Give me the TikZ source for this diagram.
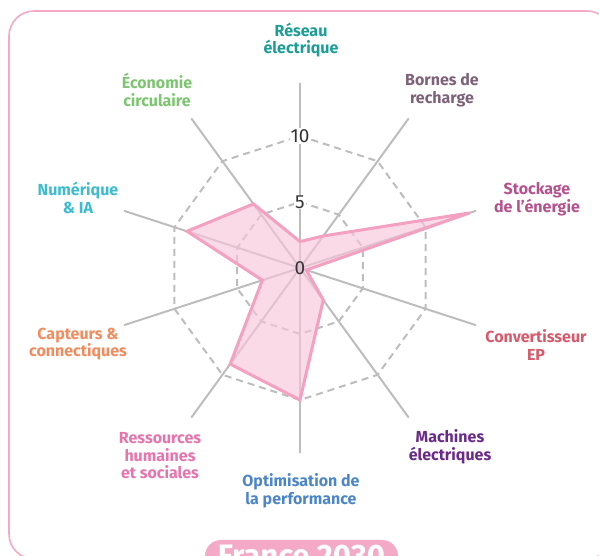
\documentclass[tikz,border=0pt]{standalone}
\usepackage{fontspec}
\setmainfont{Fira Sans}
\definecolor{framepink}{HTML}{F6A9C6}
\definecolor{badgepink}{HTML}{F4A9C6}
\definecolor{polyline}{HTML}{F4A0C0}
\definecolor{polyfill}{HTML}{F7C6DA}
\definecolor{gridgray}{HTML}{BDBDBD}
\definecolor{ticktext}{HTML}{333333}
\definecolor{cteal}{HTML}{1A9E96}
\definecolor{cmauve}{HTML}{7D6279}
\definecolor{cstock}{HTML}{B5528E}
\definecolor{cconv}{HTML}{D65A6B}
\definecolor{cmach}{HTML}{6A2A8A}
\definecolor{coptim}{HTML}{4C86C6}
\definecolor{crh}{HTML}{E774AC}
\definecolor{ccapt}{HTML}{F28C5F}
\definecolor{cnum}{HTML}{3DBCD1}
\definecolor{ceco}{HTML}{7DC571}
\tikzset{
  axisline/.style={draw=gridgray, line width=2pt},
  ringline/.style={draw=gridgray, line width=2pt, dash pattern=on 7pt off 5pt},
  datapoly/.style={draw=polyline, line width=3pt, fill=polyfill, fill opacity=0.65, line join=miter},
  catlabel/.style={align=center, font=\fontsize{16}{17.5}\selectfont\bfseries, inner sep=0pt},
  ticklabel/.style={text=ticktext, font=\fontsize{19}{19}\selectfont, inner sep=1pt}
}
\begin{document}
\begin{tikzpicture}[x=1pt,y=1pt]
\useasboundingbox (0,0) rectangle (599,556);
\begin{scope}
  \clip (0,0) rectangle (599,556);
  \draw[framepink, line width=1.6pt, rounded corners=25pt] (9,-3) rectangle (612,545);
  \fill[badgepink, rounded corners=16pt] (205,-30) rectangle (398,16);
  \node[anchor=base, text=white, font=\fontsize{31}{31}\selectfont\bfseries] (badge) at (301.5,-11) {France 2030};
\end{scope}
\coordinate (c) at (300,288);
\begin{scope}[shift={(300,288)}]
  % axes
  \foreach \a in {90,54,18,-18,-54,-90,-126,-162,162,126}{
    \draw[axisline] (0,0) -- (\a:185);
  }
  % rings
  \foreach \r in {66,132}{
    \draw[ringline] (90:\r) -- (54:\r) -- (18:\r) -- (-18:\r) -- (-54:\r) -- (-90:\r)
      -- (-126:\r) -- (-162:\r) -- (162:\r) -- (126:\r) -- cycle;
  }
  % data
  \def\u{13.2}
  \path[datapoly] (90:2*\u) -- (54:3*\u) -- (18:13.5*\u) -- (-18:0.5*\u) -- (-54:3*\u)
    -- (-90:10*\u) -- (-126:9*\u) -- (-162:3*\u) -- (162:9*\u) -- (126:6*\u) -- cycle;
  % ticks
  \node[ticklabel, fill=white] (t10) at (90:132) {10};
  \node[ticklabel, fill=white] (t5) at (90:66) {5};
  \node[ticklabel] (t0) at (0,0) {0};
\end{scope}
% category labels
\node[catlabel, text=cteal] (reseau) at (301,516) {Réseau\\électrique};
\node[catlabel, text=cmauve] (bornes) at (442,466) {Bornes de\\recharge};
\node[catlabel, text=cstock] (stock) at (537,357) {Stockage\\de l’énergie};
\node[catlabel, text=cconv] (conv) at (536,211) {Convertisseur\\EP};
\node[catlabel, text=cmach] (mach) at (450,109) {Machines\\électriques};
\node[catlabel, text=coptim] (optim) at (301,65) {Optimisation de\\la performance};
\node[catlabel, text=crh] (rh) at (160,100) {Ressources\\humaines\\et sociales};
\node[catlabel, text=ccapt] (capt) at (78,212) {Capteurs \&\\connectiques};
\node[catlabel, text=cnum] (num) at (78,358) {Numérique\\\& IA};
\node[catlabel, text=ceco] (eco) at (157,466) {Économie\\circulaire};
\end{tikzpicture}
\end{document}
